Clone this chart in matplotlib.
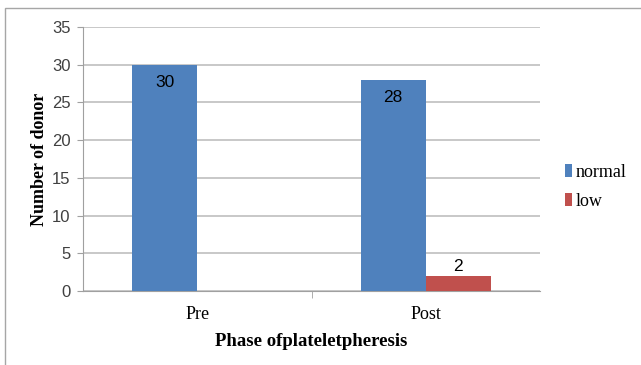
import matplotlib.pyplot as plt
import numpy as np
from matplotlib.patches import Rectangle

phases = ["Pre", "Post"]
normal = [30, 28]
low = [0, 2]
y_ticks = [0, 5, 10, 15, 20, 25, 30, 35]

blue = "#4F81BD"
red = "#C0504D"

fig = plt.figure(figsize=(6.41, 3.65), dpi=100)
ax = fig.add_axes([83 / 641, 1 - 291 / 365, (540 - 83) / 641, (291 - 27) / 365])

x = np.arange(len(phases))
w = 0.285
b1 = ax.bar(x - w / 2, normal, w, color=blue, label="normal", zorder=3)
b2 = ax.bar(x + w / 2, low, w, color=red, label="low", zorder=3)

# value labels: inside top for normal, above bar for low (skip zero)
for rect, v in zip(b1, normal):
    ax.text(rect.get_x() + rect.get_width() / 2, v - 1.4, str(v),
            ha="center", va="top", fontsize=12.5, family="Liberation Sans", color="black", zorder=4)
for rect, v in zip(b2, low):
    if v > 0:
        ax.text(rect.get_x() + rect.get_width() / 2, v + 0.25, str(v),
                ha="center", va="bottom", fontsize=12.5, family="Liberation Sans", color="black", zorder=4)

ax.set_xlim(-0.5, len(phases) - 0.5)
ax.set_ylim(0, 35)
ax.set_yticks(y_ticks)
ax.set_yticklabels([str(t) for t in y_ticks], family="Liberation Sans", fontsize=12, color="#404040")
ax.set_xticks(x)
ax.set_xticklabels(phases, family="Liberation Serif", fontsize=13)
ax.set_xticks([0.5], minor=True)
ax.tick_params(axis="x", which="major", length=0, pad=11)
ax.tick_params(axis="x", which="minor", length=5, color="#A0A0A0", direction="out")
ax.tick_params(axis="y", length=4, color="#A0A0A0", pad=5)

ax.grid(axis="y", color="#BFBFBF", linewidth=1.2, zorder=0)
for s in ["top", "right"]:
    ax.spines[s].set_visible(False)
ax.spines["left"].set_color("#A0A0A0")
ax.spines["bottom"].set_color("#A0A0A0")

ax.set_ylabel("Number of donor", family="Liberation Serif", fontweight="bold", fontsize=13, labelpad=3)
ax.set_xlabel("Phase ofplateletpheresis", family="Liberation Serif", fontweight="bold", fontsize=13.5, labelpad=7)

leg = fig.legend(handles=[b1, b2], labels=["normal", "low"], loc="center left",
                 bbox_to_anchor=(549 / 641, 1 - 187 / 365), frameon=False,
                 prop={"family": "Liberation Serif", "size": 13},
                 handlelength=0.35, handleheight=0.7, handletextpad=0.25, labelspacing=0.65)

# outer frame around the chart area
fig.patches.append(Rectangle((5 / 641, -0.01), 1.0, 1 - 8 / 365 + 0.01, transform=fig.transFigure,
                             fill=False, edgecolor="#A6A6A6", linewidth=1.0))

fig.savefig("out.png", dpi=100)
